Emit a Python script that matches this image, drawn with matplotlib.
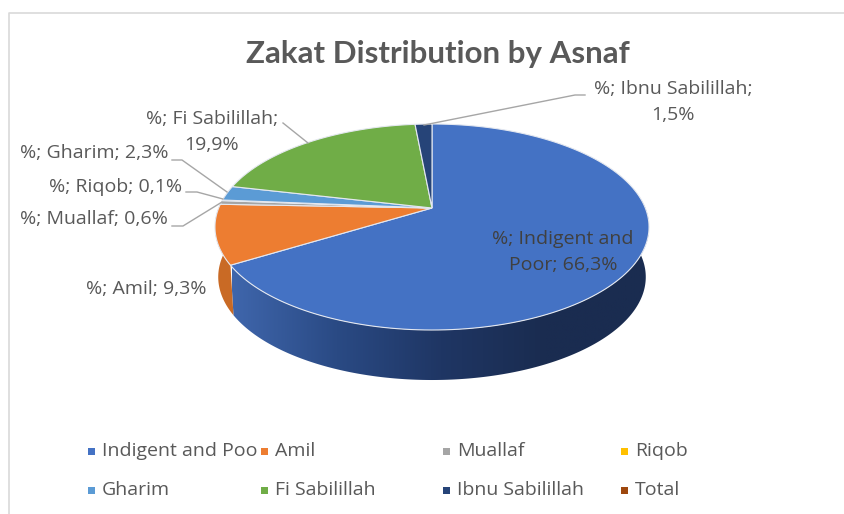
"""Zakat distribution by asnaf, drawn as a tilted 3D pie."""

import numpy as np
import matplotlib
matplotlib.use("Agg")
import matplotlib.pyplot as plt
from matplotlib.colors import LinearSegmentedColormap
from matplotlib.patches import Polygon, Rectangle

plt.rcParams['font.family'] = ['Open Sans', 'DejaVu Sans']

# ========== data ==========
slice_names = ['Indigent and Poor', 'Amil', 'Muallaf', 'Riqob', 'Gharim',
               'Fi Sabilillah', 'Ibnu Sabilillah']
slice_values = [66.3, 9.3, 0.6, 0.1, 2.3, 19.9, 1.5]
slice_colors = ['#4472C4', '#ED7D31', '#A5A5A5', '#FFC000', '#5B9BD5',
                '#70AD47', '#264478']
legend_names = ['Indigent and Poor', 'Amil', 'Muallaf', 'Riqob',
                'Gharim', 'Fi Sabilillah', 'Ibnu Sabilillah', 'Total']
legend_colors = ['#4472C4', '#ED7D31', '#A5A5A5', '#FFC000',
                 '#5B9BD5', '#70AD47', '#264478', '#9E480E']

# pie geometry in pixels
CX, CY = 432, 208
K = 0.1845      # perspective
A = 99.5
C = 213.3
DEPTH = 50
SHRINK = 0.985

TEXT_COLOR = '#595959'
LEADER_COLOR = '#A6A6A6'


def rim(theta):
    """Top rim point for a clockwise angle from 12 o'clock."""
    u, v = np.sin(theta), np.cos(theta)
    w = 1 + K * v
    return CX + C * u / w, CY - A * v / w


def wall(a0, a1):
    """Outline of the side wall between two rim angles."""
    x, y = rim(np.linspace(a0, a1, 200))
    xb = CX + (x - CX) * SHRINK
    yb = y + DEPTH
    return np.c_[np.r_[x, xb[::-1]], np.r_[y, yb[::-1]]]


fig = plt.figure(figsize=(8.44, 5.14), dpi=100)
ax = fig.add_axes([0, 0, 1, 1])

# chart frame
ax.plot([9, 9, 844], [514, 12.5, 12.5], color='#D9D9D9', lw=1.2)

edges = np.deg2rad(np.cumsum([0] + slice_values) * 3.6)

# side walls, only the front part can be seen
wall_right = np.deg2rad(80)
wall_left = np.deg2rad(278)

shade = LinearSegmentedColormap.from_list('shade', ['#3F66AC', '#2A4A84', '#1F3664', '#1A2C50', '#1A2C50'])
gradient = ax.imshow(np.linspace(0, 1, 256)[None, :], cmap=shade, aspect='auto',
                     extent=(232, 650, 400, 200), zorder=1)
blue_wall = Polygon(wall(wall_right, edges[1]), transform=ax.transData, lw=0)
gradient.set_clip_path(blue_wall)

ax.add_patch(Polygon(wall(edges[1], wall_left), facecolor='#C96A25', lw=0, zorder=1))

ax.set_xlim(0, 844)
ax.set_ylim(514, 0)
ax.axis('off')

# top face
for i, color in enumerate(slice_colors):
    th = np.linspace(edges[i], edges[i + 1], 160)
    x, y = rim(th)
    ax.fill(np.r_[CX, x], np.r_[CY, y], facecolor=color, edgecolor='#E4E8F0', lw=0.8, zorder=2)

# data labels
labels = [f'{n}; {str(v).replace(".", ",")}%' for n, v in zip(slice_names, slice_values)]
kw = dict(color=TEXT_COLOR, fontsize=14, ha='center', va='center', zorder=4)
ax.text(563, 252, '%; Indigent and\nPoor; 66,3%', linespacing=1.55,
        **{**kw, 'color': '#404040'})
ax.text(146, 289, '%; ' + labels[1], **kw)
ax.text(94, 219, '%; ' + labels[2], **kw)
ax.text(116, 187, '%; ' + labels[3], **kw)
ax.text(94, 153, '%; ' + labels[4], **kw)
ax.text(212, 132, '%; Fi Sabilillah;\n19,9%', linespacing=1.55, **kw)
ax.text(673, 102, '%; Ibnu Sabilillah;\n1,5%', linespacing=1.55, **kw)

# leader lines
leaders = [
    ([283, 308], [123, 143]),
    ([172, 182, 227], [160, 160, 192]),
    ([186, 197, 223], [192, 192, 199]),
    ([172, 183, 222], [226, 226, 202]),
    ([585, 575, 424], [95, 95, 125]),
]
for lx, ly in leaders:
    ax.plot(lx, ly, color=LEADER_COLOR, lw=1.0, zorder=3)

ax.text(438, 54, 'Zakat Distribution by Asnaf', color=TEXT_COLOR, fontsize=22.5,
        fontweight='bold', family=['Lato', 'DejaVu Sans'], ha='center', va='center')

# legend, the first entry is cut off by the next column
col_x = [91, 264, 446, 624]
row_y = [451, 490]
for i, (name, color) in enumerate(zip(legend_names, legend_colors)):
    x, y = col_x[i % 4], row_y[i // 4]
    ax.add_patch(Rectangle((x - 3, y - 3), 6.5, 6.5, color=color, lw=0))
    t = ax.text(x + 11, y, name, color=TEXT_COLOR, fontsize=14, ha='left', va='center')
    if i == 0:
        t.set_clip_path(Rectangle((x, y - 20), 168, 40, transform=ax.transData))
        t.set_clip_on(True)

fig.savefig('out.png', dpi=100)
